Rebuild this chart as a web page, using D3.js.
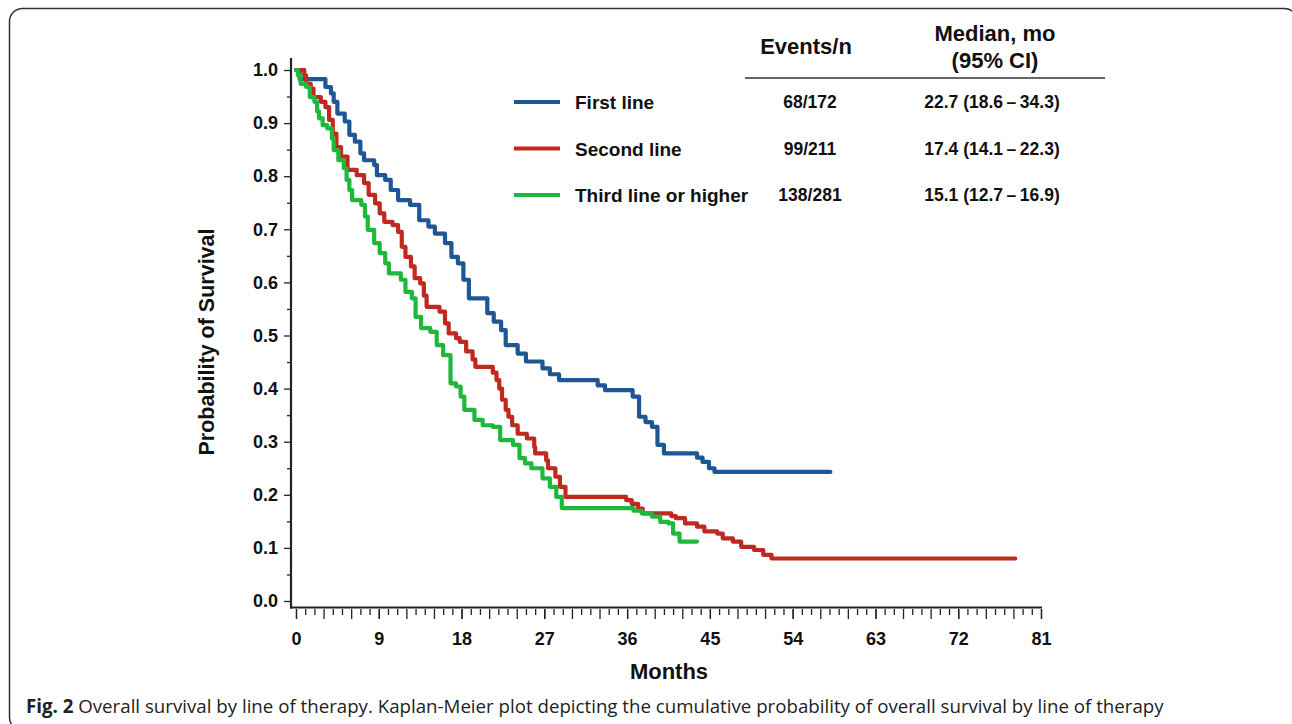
<!DOCTYPE html>
<html>
<head>
<meta charset="utf-8">
<script src="https://cdn.jsdelivr.net/npm/d3@7"></script>
<style>
  body { margin: 0; background: #fff; }
  svg { display: block; }
</style>
</head>
<body>
<script>
'use strict';

// [month, survival] at each step
const firstLine = [
  [0, 1.0], [0.4, 0.983], [3.2, 0.968], [3.8, 0.956], [4.1, 0.94], [4.5, 0.918], [5.3, 0.903],
  [5.8, 0.878], [6.4, 0.865], [7.0, 0.843], [7.4, 0.83], [8.5, 0.821], [8.8, 0.802], [9.7, 0.793],
  [10.3, 0.774], [11.1, 0.755], [12.4, 0.746], [13.4, 0.717], [14.4, 0.705], [15.1, 0.692],
  [16.2, 0.674], [16.9, 0.648], [17.6, 0.636], [18.2, 0.605], [18.8, 0.570], [20.8, 0.542],
  [21.5, 0.526], [22.3, 0.510], [22.8, 0.482], [24.1, 0.466], [25.0, 0.451], [26.8, 0.438],
  [27.6, 0.427], [28.6, 0.416], [32.8, 0.406], [33.6, 0.397], [36.6, 0.385], [37.3, 0.347],
  [38.0, 0.337], [38.7, 0.328], [39.3, 0.294], [40.0, 0.278], [43.6, 0.270], [44.2, 0.262],
  [44.9, 0.250], [45.5, 0.243], [58.1, 0.243]
];
const secondLine = [
  [0, 1.0], [0.9, 0.99], [1.1, 0.974], [1.6, 0.965], [1.9, 0.949], [2.7, 0.94], [3.2, 0.93],
  [3.6, 0.906], [4.0, 0.880], [4.4, 0.855], [4.9, 0.837], [5.6, 0.812], [6.6, 0.802], [7.4, 0.787],
  [7.9, 0.765], [8.6, 0.749], [9.1, 0.730], [9.6, 0.714], [10.5, 0.708], [11.1, 0.695],
  [11.5, 0.667], [11.9, 0.648], [12.5, 0.630], [12.9, 0.608], [13.5, 0.598], [13.9, 0.575],
  [14.2, 0.554], [15.6, 0.545], [16.2, 0.523], [16.6, 0.504], [17.4, 0.495], [17.8, 0.488],
  [18.5, 0.470], [19.2, 0.455], [19.5, 0.441], [21.4, 0.430], [21.8, 0.416], [22.1, 0.400],
  [22.4, 0.379], [22.8, 0.360], [23.1, 0.347], [23.5, 0.331], [24.1, 0.315], [25.1, 0.306],
  [25.9, 0.290], [26.0, 0.278], [27.2, 0.265], [27.4, 0.250], [28.2, 0.234], [28.7, 0.215],
  [29.3, 0.196], [35.9, 0.190], [36.5, 0.183], [37.2, 0.174], [37.7, 0.165], [40.8, 0.160],
  [41.3, 0.156], [42.3, 0.146], [43.6, 0.140], [44.4, 0.131], [45.8, 0.127], [46.4, 0.118],
  [47.5, 0.112], [48.4, 0.102], [49.8, 0.096], [50.8, 0.087], [51.7, 0.080], [78.2, 0.080]
];
const thirdLine = [
  [0, 1.0], [0.2, 0.99], [0.5, 0.974], [1.1, 0.968], [1.5, 0.949], [2.0, 0.94], [2.3, 0.922],
  [2.5, 0.909], [2.9, 0.896], [3.4, 0.890], [3.9, 0.871], [4.1, 0.849], [4.6, 0.830], [5.2, 0.815],
  [5.5, 0.793], [5.8, 0.774], [6.1, 0.755], [7.1, 0.746], [7.5, 0.724], [7.8, 0.699], [8.5, 0.674],
  [9.1, 0.655], [9.7, 0.636], [10.1, 0.617], [11.4, 0.605], [11.9, 0.582], [12.6, 0.570],
  [13.0, 0.535], [13.6, 0.514], [14.6, 0.507], [15.3, 0.482], [16.0, 0.463], [16.8, 0.410],
  [17.4, 0.404], [17.9, 0.385], [18.3, 0.360], [19.4, 0.341], [20.3, 0.331], [21.4, 0.328],
  [22.2, 0.303], [23.6, 0.294], [24.3, 0.269], [24.9, 0.259], [25.6, 0.250], [26.8, 0.231],
  [27.6, 0.215], [28.3, 0.196], [28.9, 0.175], [36.7, 0.170], [37.6, 0.165], [38.7, 0.159],
  [39.6, 0.149], [40.5, 0.146], [41.0, 0.127], [41.7, 0.112], [43.6, 0.112]
];

const groupNames = ["First line", "Second line", "Third line or higher"];
const groupColors = ["#1f5694", "#c0291f", "#1fb83c"];
const eventsN = ["68/172", "99/211", "138/281"];
const medians = ["22.7 (18.6\u2009\u2013\u200934.3)", "17.4 (14.1\u2009\u2013\u200922.3)", "15.1 (12.7\u2009\u2013\u200916.9)"];
const yTicks = d3.range(0, 11).map(d => d / 10);
const xTicks = d3.range(0, 82, 9);

const W = 1292, H = 724;
const FONT = "'Liberation Sans', Arial, sans-serif";

const svg = d3.select("body").append("svg")
  .attr("width", W)
  .attr("height", H);

// frame of the figure panel
svg.append("rect")
  .attr("x", 9.5).attr("y", 8.5)
  .attr("width", 1288).attr("height", 722)
  .attr("rx", 13)
  .attr("fill", "none")
  .attr("stroke", "#333")
  .attr("stroke-width", 1.5);

const x = d3.scaleLinear().domain([0, 81]).range([296, 1041]);
const y = d3.scaleLinear().domain([0, 1]).range([601, 70]);

const axisColor = "#222";

// y axis
const yAxisG = svg.append("g").attr("transform", "translate(291,0)");
yAxisG.call(d3.axisLeft(y).tickValues(d3.range(0, 10).map(d => d / 10 + 0.05)).tickSize(4).tickFormat(""));
yAxisG.call(g => g.select(".domain").remove());
const yMajor = svg.append("g").attr("transform", "translate(291,0)")
  .call(d3.axisLeft(y).tickValues(yTicks).tickSize(7).tickPadding(6).tickFormat(d3.format(".1f")));
yMajor.select(".domain").remove();

svg.append("line")
  .attr("x1", 291).attr("x2", 291)
  .attr("y1", 58).attr("y2", 608.5)
  .attr("stroke", axisColor).attr("stroke-width", 2.2);

// x axis
const xMinor = svg.append("g").attr("transform", "translate(0,609)")
  .call(d3.axisBottom(x).tickValues(d3.range(0, 82).filter(d => d % 3 !== 0)).tickSize(6).tickFormat(""));
xMinor.select(".domain").remove();
const xMid = svg.append("g").attr("transform", "translate(0,609)")
  .call(d3.axisBottom(x).tickValues(d3.range(0, 82, 3)).tickSize(10).tickFormat(""));
xMid.select(".domain").remove();
const xMajor = svg.append("g").attr("transform", "translate(0,609)")
  .call(d3.axisBottom(x).tickValues(xTicks).tickSize(10).tickPadding(13).tickFormat(d3.format("d")));
xMajor.select(".domain").remove();

svg.append("line")
  .attr("x1", 290).attr("x2", 1042)
  .attr("y1", 607.5).attr("y2", 607.5)
  .attr("stroke", axisColor).attr("stroke-width", 2.2);

svg.selectAll(".tick line").attr("stroke", axisColor).attr("stroke-width", 1.3);
svg.selectAll(".tick text")
  .attr("fill", "#111")
  .style("font-family", FONT)
  .style("font-weight", "bold")
  .style("font-size", "18px");

// axis titles
svg.append("text")
  .attr("transform", "translate(214,342) rotate(-90)")
  .attr("text-anchor", "middle")
  .style("font-family", FONT).style("font-weight", "bold").style("font-size", "21.5px")
  .attr("fill", "#111")
  .text("Probability of Survival");

svg.append("text")
  .attr("x", 669).attr("y", 679)
  .attr("text-anchor", "middle")
  .style("font-family", FONT).style("font-weight", "bold").style("font-size", "22px")
  .attr("fill", "#111")
  .text("Months");

// survival curves
const line = d3.line()
  .x(d => x(d[0]))
  .y(d => y(d[1]))
  .curve(d3.curveStepAfter);

[firstLine, secondLine, thirdLine].forEach((s, i) => {
  svg.append("path")
    .datum(s)
    .attr("d", line)
    .attr("fill", "none")
    .attr("stroke", groupColors[i])
    .attr("stroke-width", 4.2)
    .attr("stroke-linejoin", "round")
    .attr("stroke-linecap", "round");
});

// table legend
const hdr = svg.append("g")
  .style("font-family", FONT).style("font-weight", "bold")
  .attr("fill", "#111");
hdr.append("text").attr("x", 806).attr("y", 54).attr("text-anchor", "middle")
  .style("font-size", "22px").text("Events/n");
hdr.append("text").attr("x", 995).attr("y", 41).attr("text-anchor", "middle")
  .style("font-size", "22px").text("Median, mo");
hdr.append("text").attr("x", 995).attr("y", 68).attr("text-anchor", "middle")
  .style("font-size", "22px").text("(95% CI)");
svg.append("line")
  .attr("x1", 745).attr("x2", 1105)
  .attr("y1", 78).attr("y2", 78)
  .attr("stroke", "#333").attr("stroke-width", 1.5);

const rowY = d3.scalePoint().domain(groupNames).range([102, 195]);
const rows = svg.append("g").selectAll("g")
  .data(groupNames)
  .join("g")
  .attr("transform", d => `translate(0,${rowY(d)})`);

rows.append("line")
  .attr("x1", 514).attr("x2", 560)
  .attr("stroke", (d, i) => groupColors[i])
  .attr("stroke-width", 4.2);

rows.append("text")
  .attr("x", 575).attr("y", 7)
  .style("font-family", FONT).style("font-weight", "bold").style("font-size", "19px")
  .attr("fill", "#111")
  .text(d => d);

rows.append("text")
  .attr("x", 810).attr("y", 6).attr("text-anchor", "middle")
  .style("font-family", FONT).style("font-weight", "bold").style("font-size", "17.5px")
  .attr("fill", "#111")
  .text((d, i) => eventsN[i]);

rows.append("text")
  .attr("x", 992).attr("y", 6).attr("text-anchor", "middle")
  .style("font-family", FONT).style("font-weight", "bold").style("font-size", "17.5px")
  .attr("fill", "#111")
  .text((d, i) => medians[i]);

// caption
const cap = svg.append("text")
  .attr("x", 26).attr("y", 713)
  .style("font-family", "'Open Sans', 'Noto Sans', sans-serif")
  .style("font-size", "18.7px")
  .attr("fill", "#222");
cap.append("tspan").style("font-weight", "bold").text("Fig. 2");
cap.append("tspan").text(" Overall survival by line of therapy. Kaplan-Meier plot depicting the cumulative probability of overall survival by line of therapy");
</script>
</body>
</html>
